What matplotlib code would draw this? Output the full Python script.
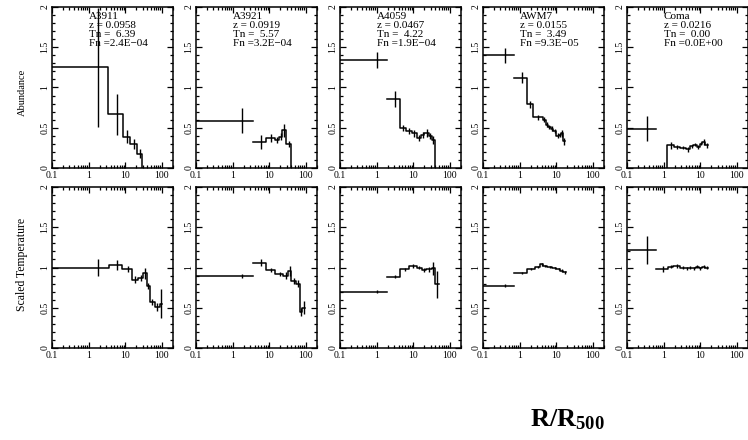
import numpy as np
import matplotlib
matplotlib.use("Agg")
import matplotlib.pyplot as plt
from matplotlib.ticker import FixedLocator, MultipleLocator, LogLocator, NullFormatter, FixedFormatter

plt.rcParams["font.family"] = ["Liberation Serif", "DejaVu Serif"]
plt.rcParams["mathtext.fontset"] = "custom"
plt.rcParams["mathtext.rm"] = "Liberation Serif"
plt.rcParams["mathtext.bf"] = "Liberation Serif:bold"

# cluster labels
clusters = ["A3911", "A3921", "A4059", "AWM7", "Coma"]
redshift = ["0.0958", "0.0919", "0.0467", "0.0155", "0.0216"]
tn_vals = ["6.39", "5.57", "4.22", "3.49", "0.00"]
fn_vals = ["2.4E\u221204", "3.2E\u221204", "1.9E\u221204", "9.3E\u221205", "0.0E+00"]

# central bin (drawn separately), None where it joins the profile
ab_inner_edges = [None, [0.1, 3.6], [0.1, 1.9], [0.1, 0.705], [0.1, 0.6]]
ab_inner_val = [None, 0.59, 1.34, 1.40, 0.49]
ab_inner_err = [None, 0.16, 0.10, 0.09, 0.16]

t_inner_edges = [None, [0.1, 3.6], [0.1, 1.9], [0.1, 0.705], [0.1, 0.6]]
t_inner_val = [None, 0.894, 0.70, 0.774, 1.22]
t_inner_err = [None, 0.03, 0.02, 0.02, 0.175]

# abundance profiles
a3911_ab_edges = [0.1, 3.43, 8.5, 13.6, 20.5, 29]
a3911_ab_vals = [1.25, 0.665, 0.39, 0.30, 0.18]
a3911_ab_errs = [0.74, 0.25, 0.08, 0.06, 0.05]

a3921_ab_edges = [3.5, 8.1, 14.5, 18.5, 22.8, 28.5, 40]
a3921_ab_vals = [0.32, 0.37, 0.35, 0.39, 0.47, 0.30]
a3921_ab_errs = [0.09, 0.05, 0.04, 0.04, 0.08, 0.04]

a4059_ab_edges = [1.9, 4.4, 6.3, 9.2, 12.3, 16, 19.7, 26.8, 31.6, 38.8]
a4059_ab_vals = [0.86, 0.50, 0.46, 0.43, 0.37, 0.41, 0.43, 0.395, 0.345]
a4059_ab_errs = [0.10, 0.04, 0.04, 0.04, 0.04, 0.04, 0.05, 0.04, 0.05]

awm7_ab_edges = [0.705, 1.6, 2.3, 4.2, 5.2, 6.0, 7.0, 8.3, 10.1, 11.8, 13.6, 15.4, 17.7]
awm7_ab_vals = [1.12, 0.79, 0.63, 0.60, 0.54, 0.51, 0.49, 0.46, 0.40, 0.41, 0.43, 0.33]
awm7_ab_errs = [0.07, 0.04, 0.03, 0.03, 0.03, 0.03, 0.03, 0.03, 0.03, 0.03, 0.04, 0.04]

coma_ab_edges = [1.27, 1.9, 2.85, 4.0, 5.2, 6.4, 8.2, 9.6, 11, 13.5, 16.5]
coma_ab_vals = [0.28, 0.26, 0.25, 0.23, 0.27, 0.29, 0.26, 0.30, 0.32, 0.28]
coma_ab_errs = [0.04, 0.02, 0.02, 0.03, 0.02, 0.02, 0.02, 0.02, 0.04, 0.03]

ab_rise_from_zero = [False, False, False, False, True]
ab_drop_to_zero = [True, True, True, False, False]

# scaled temperature profiles
a3911_t_edges = [0.1, 3.6, 8.1, 15.1, 22.7, 31, 38, 46.7, 63, 86.6, 102]
a3911_t_vals = [1.0, 1.03, 0.98, 0.85, 0.87, 0.93, 0.77, 0.57, 0.51, 0.55]
a3911_t_errs = [0.11, 0.06, 0.04, 0.04, 0.04, 0.07, 0.04, 0.04, 0.05, 0.18]

a3921_t_edges = [3.5, 8.1, 14.5, 24, 33, 40, 52, 68, 78, 96]
a3921_t_vals = [1.06, 0.97, 0.92, 0.90, 0.96, 0.83, 0.80, 0.45, 0.50]
a3921_t_errs = [0.04, 0.03, 0.03, 0.04, 0.06, 0.04, 0.04, 0.05, 0.08]

a4059_t_edges = [1.9, 4.4, 7.8, 12.3, 17, 21.8, 31.6, 38.8, 49.6]
a4059_t_vals = [0.886, 0.98, 1.02, 1.0, 0.97, 0.98, 0.99, 0.79]
a4059_t_errs = [0.02, 0.02, 0.02, 0.02, 0.02, 0.03, 0.08, 0.17]

awm7_t_edges = [0.705, 1.6, 2.6, 3.65, 4.3, 5.7, 7.8, 10.1, 13, 15.4, 18.9]
awm7_t_vals = [0.933, 0.983, 1.01, 1.04, 1.02, 1.01, 0.996, 0.983, 0.96, 0.94]
awm7_t_errs = [0.01, 0.01, 0.01, 0.02, 0.01, 0.01, 0.01, 0.01, 0.02, 0.02]

coma_t_edges = [0.6, 1.33, 1.8, 2.85, 3.9, 4.7, 6.0, 7.4, 9.0, 11, 13.5, 16.5]
coma_t_vals = [0.98, 1.01, 1.02, 1.0, 0.99, 1.0, 0.99, 1.01, 0.99, 1.01, 1.0]
coma_t_errs = [0.04, 0.02, 0.02, 0.02, 0.02, 0.02, 0.02, 0.02, 0.02, 0.02, 0.02]

ab_profiles = [(a3911_ab_edges, a3911_ab_vals, a3911_ab_errs),
               (a3921_ab_edges, a3921_ab_vals, a3921_ab_errs),
               (a4059_ab_edges, a4059_ab_vals, a4059_ab_errs),
               (awm7_ab_edges, awm7_ab_vals, awm7_ab_errs),
               (coma_ab_edges, coma_ab_vals, coma_ab_errs)]
t_profiles = [(a3911_t_edges, a3911_t_vals, a3911_t_errs),
              (a3921_t_edges, a3921_t_vals, a3921_t_errs),
              (a4059_t_edges, a4059_t_vals, a4059_t_errs),
              (awm7_t_edges, awm7_t_vals, awm7_t_errs),
              (coma_t_edges, coma_t_vals, coma_t_errs)]

W, H = 748.0, 440.0
fig = plt.figure(figsize=(W / 100, H / 100), dpi=100)

lefts = [52, 196, 340, 483, 627]
width = 121
rows = [(7, 168), (187, 348)]


def draw_profile(ax, edges, vals, errs, rise=False, drop=False):
    e = np.asarray(edges, dtype=float)
    v = np.asarray(vals, dtype=float)
    xs = np.repeat(e, 2)[1:-1]
    ys = np.repeat(v, 2)
    if rise:
        xs = np.r_[e[0], xs]
        ys = np.r_[0.0, ys]
    if drop:
        xs = np.r_[xs, e[-1]]
        ys = np.r_[ys, 0.0]
    ax.plot(xs, ys, color="black", lw=1.1)
    mids = 0.5 * (e[:-1] + e[1:])
    ax.errorbar(mids, v, yerr=errs, fmt="none", ecolor="black", elinewidth=1.0, capsize=0)


def style_axes(ax):
    ax.set_xscale("log")
    ax.set_xlim(0.1, 200)
    ax.set_ylim(0, 2)
    ax.xaxis.set_major_locator(FixedLocator([0.1, 1, 10, 100]))
    ax.xaxis.set_major_formatter(FixedFormatter(["0.1", "1", "10", "100"]))
    ax.xaxis.set_minor_locator(LogLocator(base=10, subs=np.arange(2, 10)))
    ax.xaxis.set_minor_formatter(NullFormatter())
    ax.yaxis.set_major_locator(FixedLocator([0, 0.5, 1, 1.5, 2]))
    ax.yaxis.set_major_formatter(FixedFormatter(["0", "0.5", "1", "1.5", "2"]))
    ax.yaxis.set_minor_locator(MultipleLocator(0.1))
    ax.tick_params(which="both", direction="in", top=True, right=True, width=0.9,
                   labelsize=7, pad=2)
    ax.tick_params(which="major", length=4)
    ax.tick_params(which="minor", length=2)
    ax.tick_params(axis="y", labelrotation=90)
    for lab in ax.get_yticklabels():
        lab.set_va("center")
    for s in ax.spines.values():
        s.set_linewidth(1.1)


for r, (top, bottom) in enumerate(rows):
    for i in range(5):
        ax = fig.add_axes([lefts[i] / W, 1 - bottom / H, width / W, (bottom - top) / H])
        style_axes(ax)
        if r == 0:
            ie, iv, ierr = ab_inner_edges[i], ab_inner_val[i], ab_inner_err[i]
            edges, vals, errs = ab_profiles[i]
            rise, drop = ab_rise_from_zero[i], ab_drop_to_zero[i]
        else:
            ie, iv, ierr = t_inner_edges[i], t_inner_val[i], t_inner_err[i]
            edges, vals, errs = t_profiles[i]
            rise, drop = False, False
        if ie is not None:
            draw_profile(ax, ie, [iv], [ierr])
        draw_profile(ax, edges, vals, errs, rise=rise, drop=drop)
        if r == 0:
            ax.text(1.0, 1.94,
                    f"{clusters[i]}\nz = {redshift[i]}\nTn =  {tn_vals[i]}\nFn ={fn_vals[i]}",
                    ha="left", va="top", fontsize=8, linespacing=1.0)

fig.text(22 / W, 1 - 92 / H, "Abundance", rotation=90, ha="center", va="center", fontsize=7.5)
fig.text(22 / W, 1 - 264 / H, "Scaled Temperature", rotation=90, ha="center", va="center", fontsize=8.5)
fig.text(567 / W, 1 - 420 / H, r"$\mathbf{R/R_{500}}$", ha="center", va="center", fontsize=19)

fig.savefig("out.png", dpi=100)
